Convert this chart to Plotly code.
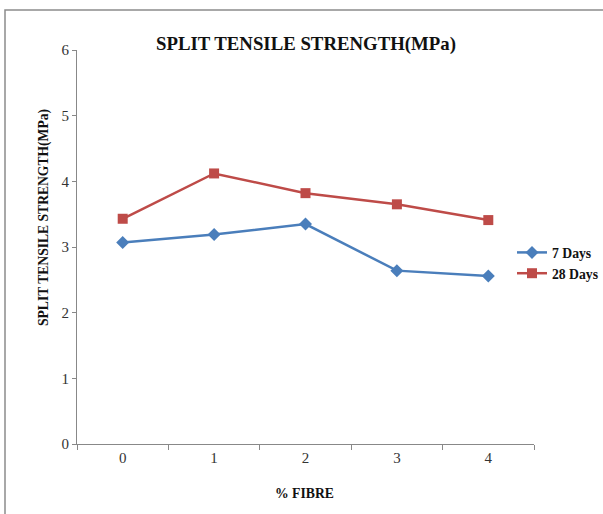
import plotly.graph_objects as go

categories = ["0", "1", "2", "3", "4"]
days7 = [3.07, 3.19, 3.35, 2.64, 2.56]
days28 = [3.43, 4.12, 3.82, 3.65, 3.41]
y_ticks = [0, 1, 2, 3, 4, 5, 6]

L, R, T, B = 77, 69, 50, 70
W, H = 603, 514
pw = W - L - R
ph = H - T - B

fig = go.Figure()
fig.add_trace(go.Scatter(x=categories, y=days7, name="7 Days", mode="lines+markers",
                         line=dict(color="#4A7EBB", width=2.5),
                         marker=dict(symbol="diamond", size=10, color="#4A7EBB")))
fig.add_trace(go.Scatter(x=categories, y=days28, name="28 Days", mode="lines+markers",
                         line=dict(color="#BE4B48", width=2.5),
                         marker=dict(symbol="square", size=10, color="#BE4B48")))

serif = "Liberation Serif, Times New Roman, serif"
fig.update_layout(
    width=W, height=H,
    margin=dict(l=L, r=R, t=T, b=B, autoexpand=False),
    paper_bgcolor="white", plot_bgcolor="white",
    font=dict(family=serif, color="#333333", size=13),
    showlegend=True,
    legend=dict(x=(512 - L) / pw, y=(444 - 237) / ph, xanchor="left", yanchor="top",
                font=dict(family=serif, size=13.7, color="#111111", weight="bold"),
                bgcolor="rgba(0,0,0,0)", tracegroupgap=0, itemwidth=30),
    xaxis=dict(type="category", range=[-0.5, 4.5], showline=True, linecolor="#888888",
               linewidth=1, ticks="outside", tickson="boundaries", ticklen=5,
               tickcolor="#888888", showgrid=False, zeroline=False,
               tickfont=dict(family=serif, size=15, color="#333333")),
    yaxis=dict(range=[0, 6], tickvals=y_ticks, showline=True, linecolor="#888888",
               linewidth=1, ticks="outside", ticklen=4, tickcolor="#888888",
               showgrid=False, zeroline=False,
               tickfont=dict(family=serif, size=15, color="#333333")),
)

fig.add_annotation(text="<b>SPLIT TENSILE STRENGTH(MPa)</b>", xref="paper", yref="paper",
                   x=(306 - L) / pw, y=(444 - 44) / ph, showarrow=False,
                   xanchor="center", yanchor="middle",
                   font=dict(family=serif, size=18.8, color="#111111"))
fig.add_annotation(text="<b>SPLIT TENSILE STRENGTH(MPa)</b>", xref="paper", yref="paper",
                   x=(44 - L) / pw, y=(444 - 218) / ph, showarrow=False, textangle=-90,
                   xanchor="center", yanchor="middle",
                   font=dict(family=serif, size=13.6, color="#111111"))
fig.add_annotation(text="<b>% FIBRE</b>", xref="paper", yref="paper",
                   x=(304 - L) / pw, y=(444 - 493) / ph, showarrow=False,
                   xanchor="center", yanchor="middle",
                   font=dict(family=serif, size=13.7, color="#111111"))

x0 = (5 - L) / pw
x1 = (W + 5 - L) / pw
yt = (444 - 10) / ph
yb = (444 - H - 5) / ph
fig.add_shape(type="path", xref="paper", yref="paper",
              path=f"M {x0},{yb} L {x0},{yt} L {x1},{yt}",
              line=dict(color="#8c8c8c", width=1.5))

fig.write_html("out.html")
